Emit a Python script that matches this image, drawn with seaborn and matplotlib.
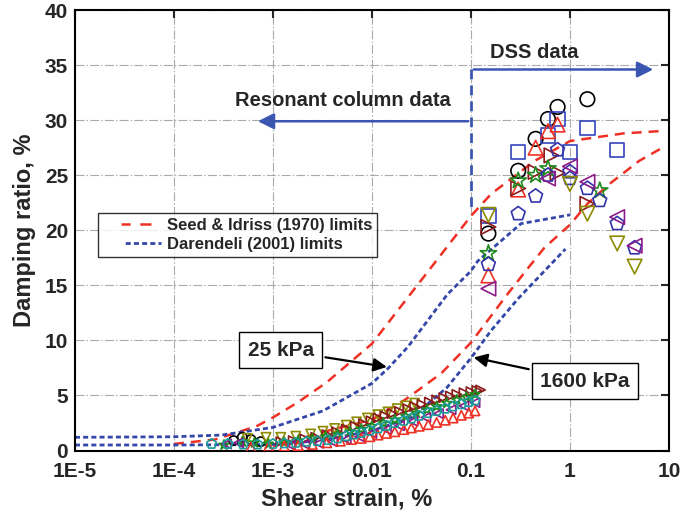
import numpy as np
import pandas as pd
import matplotlib
matplotlib.use("Agg")
import matplotlib.pyplot as plt
from matplotlib.lines import Line2D
import seaborn as sns

# ---------------- data ----------------
# Seed & Idriss (1970) limits
si_up_x = [1e-4, 2.6e-4, 6.8e-4, 1e-3, 1.8e-3, 3.5e-3, 0.01, 0.05, 0.1, 0.16, 0.44, 1.0, 3.5, 8.0]
si_up_y = [0.6, 1.0, 2.2, 3.0, 4.4, 6.2, 9.7, 17.8, 21.3, 23.3, 26.3, 28.1, 28.8, 29.0]
si_lo_x = [1e-3, 3.6e-3, 0.01, 0.0215, 0.05, 0.1, 0.234, 0.38, 0.55, 1.0, 1.5, 2.5, 5.0, 9.0]
si_lo_y = [0.4, 1.8, 2.8, 4.6, 7.0, 9.8, 14.2, 16.6, 18.4, 20.5, 22.4, 24.2, 26.3, 27.6]
# Darendeli (2001) limits
da_up_x = [1e-5, 1e-4, 3e-4, 1e-3, 3.2e-3, 0.01, 0.0147, 0.023, 0.058, 0.1, 0.117, 0.32, 1.0]
da_up_y = [1.2, 1.25, 1.4, 2.1, 3.6, 6.1, 7.5, 9.4, 14.2, 16.3, 17.2, 20.6, 21.4]
da_lo_x = [1e-5, 1e-4, 1e-3, 3e-3, 0.01, 0.025, 0.057, 0.1, 0.16, 0.3, 0.9]
da_lo_y = [0.5, 0.5, 0.55, 0.9, 1.8, 3.0, 5.7, 8.4, 10.9, 13.8, 18.3]

# DSS data (strain %, damping %)
dss = {
    "circle":   ([0.15, 0.3, 0.45, 0.6, 0.75, 1.5],
                 [19.7, 25.4, 28.3, 30.1, 31.2, 31.9]),
    "square":   ([0.15, 0.3, 0.6, 0.75, 1.0, 1.5, 3.0],
                 [21.3, 27.1, 28.6, 30.1, 27.1, 29.3, 27.3]),
    "tri_up":   ([0.15, 0.3, 0.45, 0.6, 0.75],
                 [15.9, 23.7, 27.5, 29.0, 29.6]),
    "tri_right":([0.15, 0.3, 0.45, 0.65, 0.75, 1.5],
                 [20.3, 23.8, 25.3, 26.8, 25.2, 22.4]),
    "star":     ([0.15, 0.3, 0.45, 0.6, 2.0],
                 [17.9, 24.5, 25.0, 25.6, 23.6]),
    "pentagon": ([0.15, 0.3, 0.45, 0.6, 0.75, 1.0, 1.0, 1.5, 2.0, 3.0, 4.5],
                 [16.9, 21.5, 23.1, 25.0, 27.3, 25.3, 24.7, 23.8, 22.7, 20.6, 18.4]),
    "tri_down": ([0.15, 1.0, 1.5, 3.0, 4.5],
                 [21.4, 24.2, 21.5, 18.8, 16.7]),
    "tri_left": ([0.15, 0.6, 1.0, 1.5, 3.0, 4.5],
                 [14.7, 24.7, 25.8, 24.4, 21.2, 18.6]),
}

# Resonant column data (strain %, damping %)
rc_teal_x = [2.4e-4, 3.5e-4, 5e-4, 7e-4, 1e-3, 1.3e-3, 1.7e-3, 2.2e-3, 2.8e-3, 3.6e-3, 4.5e-3, 5.5e-3,
             6.6e-3, 7.8e-3, 9.5e-3, 0.0115, 0.014, 0.017, 0.021, 0.025, 0.03, 0.037, 0.045, 0.055,
             0.066, 0.08, 0.095, 0.11]
rc_teal_y = [0.6, 0.6, 0.55, 0.55, 0.6, 0.65, 0.7, 0.8, 0.85, 0.95, 1.1, 1.3,
             1.45, 1.6, 1.8, 2.0, 2.25, 2.5, 2.7, 2.9, 3.15, 3.4, 3.6, 3.8,
             4.0, 4.2, 4.4, 4.55]
rc_red_x = [6e-4, 9e-4, 1.3e-3, 1.8e-3, 2.5e-3, 3.5e-3, 4.8e-3, 6.2e-3, 7.8e-3, 0.0095, 0.0115, 0.014,
            0.017, 0.021, 0.025, 0.03, 0.037, 0.045, 0.055, 0.066, 0.08, 0.095, 0.11]
rc_red_y = [0.3, 0.35, 0.4, 0.45, 0.55, 0.7, 0.85, 1.0, 1.1, 1.25, 1.4, 1.55,
            1.7, 1.9, 2.05, 2.2, 2.35, 2.55, 2.75, 2.95, 3.2, 3.4, 3.6]
rc_brown_x = [1.2e-3, 1.6e-3, 2.1e-3, 2.7e-3, 3.5e-3, 4.4e-3, 5.5e-3, 6.8e-3, 8.2e-3, 0.0098, 0.0115,
              0.0135, 0.016, 0.019, 0.023, 0.027, 0.032, 0.038, 0.045, 0.053, 0.062, 0.072, 0.085,
              0.1, 0.115, 0.125]
rc_brown_y = [0.8, 0.9, 1.05, 1.2, 1.45, 1.7, 1.95, 2.2, 2.45, 2.7, 2.95,
              3.15, 3.35, 3.55, 3.8, 4.0, 4.2, 4.4, 4.6, 4.8, 4.95, 5.1, 5.25,
              5.35, 5.45, 5.5]
rc_olive_x = [5.5e-4, 8.5e-4, 1.2e-3, 1.7e-3, 2.4e-3, 3.2e-3, 4.2e-3, 5.5e-3, 7e-3, 9e-3, 0.0115, 0.0145,
              0.018, 0.022, 0.027]
rc_olive_y = [1.1, 1.2, 1.2, 1.3, 1.5, 1.75, 2.0, 2.3, 2.6, 2.95, 3.25, 3.5,
              3.8, 4.05, 4.3]
rc_green_x = [3.2e-4, 4.9e-4, 6.5e-4, 9e-4, 1.3e-3, 1.8e-3, 2.5e-3, 3.4e-3, 4.5e-3, 6e-3, 7.8e-3, 0.01,
              0.013, 0.017, 0.022, 0.028, 0.036, 0.045, 0.057, 0.072, 0.09, 0.11]
rc_green_y = [0.5, 0.8, 0.7, 0.6, 0.75, 0.9, 1.05, 1.25, 1.45, 1.7, 1.95, 2.2,
              2.5, 2.8, 3.1, 3.4, 3.7, 4.0, 4.3, 4.6, 4.85, 5.1]
rc_purple_x = [3.4e-4, 4.5e-4, 1.5e-3, 2.1e-3, 2.9e-3, 4e-3, 5.5e-3, 7.5e-3, 0.01, 0.014, 0.019, 0.026,
               0.035, 0.047, 0.063, 0.085, 0.11]
rc_purple_y = [0.6, 0.7, 0.5, 0.55, 0.65, 0.8, 1.0, 1.25, 1.55, 1.9, 2.25, 2.65,
               3.0, 3.35, 3.7, 4.05, 4.35]
rc_black_x = [4e-4, 4.9e-4, 6e-4, 7.5e-4]
rc_black_y = [0.9, 1.2, 1.0, 0.8]

xtick_vals = [1e-5, 1e-4, 1e-3, 1e-2, 1e-1, 1, 10]
xtick_labels = ["1E-5", "1E-4", "1E-3", "0.01", "0.1", "1", "10"]

# ---------------- styling ----------------
RED = "#EE3124"
BLUE = "#3347A8"
ARROW_BLUE = "#3A56B0"
RED_DASH = (7.2, 5.0)
BLUE_DASH = (3.6, 2.3)
mk_style = {
    "circle": ("o", "black"),
    "square": ("s", "#3344BB"),
    "tri_up": ("^", "#EE3124"),
    "tri_right": (">", "#8B1A1A"),
    "star": ("*", "#1E8B1E"),
    "pentagon": ("p", "#3333AA"),
    "tri_down": ("v", "#8C8C00"),
    "tri_left": ("<", "#8B1A8B"),
}

sns.set_style("white")
plt.rcParams["font.family"] = ["Liberation Sans", "DejaVu Sans"]
plt.rcParams["font.weight"] = "bold"
plt.rcParams["lines.scale_dashes"] = False

fig = plt.figure(figsize=(6.84, 5.14), dpi=100)
ax = fig.add_axes([0.1096, 0.1235, 0.8684, 0.857])
ax.set_xscale("log")

def curve(xs, ys, color, dashes, lw):
    sns.lineplot(x=xs, y=ys, ax=ax, color=color, lw=lw, estimator=None, sort=False,
                 legend=False)
    ax.lines[-1].set_dashes(dashes)

curve(si_up_x, si_up_y, RED, RED_DASH, 1.8)
curve(si_lo_x, si_lo_y, RED, RED_DASH, 1.8)
curve(da_up_x, da_up_y, BLUE, BLUE_DASH, 2.0)
curve(da_lo_x, da_lo_y, BLUE, BLUE_DASH, 2.0)

def pts(xs, ys, marker, color, size):
    sns.scatterplot(x=xs, y=ys, ax=ax, marker=marker, s=size, facecolor="none",
                    edgecolor=color, linewidth=1.2, legend=False, zorder=4)

# resonant column data (small dense markers)
pts(rc_black_x, rc_black_y, "o", "black", 45)
pts(rc_olive_x, rc_olive_y, "v", "#8C8C00", 45)
pts(rc_brown_x, rc_brown_y, ">", "#8B1A1A", 45)
pts(rc_green_x, rc_green_y, "*", "#1E8B1E", 55)
pts(rc_purple_x, rc_purple_y, "<", "#8B1A8B", 45)
pts(rc_red_x, rc_red_y, "^", "#EE3124", 45)
pts(rc_teal_x, rc_teal_y, "p", "#1A9A9A", 55)

# DSS data
for key, (xs, ys) in dss.items():
    m, c = mk_style[key]
    pts(xs, ys, m, c, 110 if m != "*" else 150)

# ---------------- axes ----------------
ax.set_xlim(1e-5, 10)
ax.set_ylim(0, 40)
ax.set_xticks(xtick_vals)
ax.set_xticklabels(xtick_labels)
ax.xaxis.set_minor_locator(matplotlib.ticker.NullLocator())
ax.set_yticks(range(0, 41, 5))
ax.tick_params(axis="both", which="major", direction="in", length=6, width=1.5,
               top=True, right=True, labelsize=15)
ax.tick_params(axis="x", pad=8)
ax.tick_params(axis="y", pad=5)
for lab in ax.get_xticklabels() + ax.get_yticklabels():
    lab.set_fontweight("bold")
ax.grid(True, which="major", color="#AAAAAA", linestyle="-.", linewidth=0.8)
for sp in ax.spines.values():
    sp.set_linewidth(1.5)
    sp.set_color("black")
ax.set_xlabel("Shear strain, %", fontsize=17, fontweight="bold")
ax.xaxis.set_label_coords(0.458, -0.083)
ax.set_ylabel("Damping ratio, %", fontsize=17, fontweight="bold", labelpad=6)

# legend
h_red = Line2D([], [], color=RED, lw=1.8, dashes=(0.01, 13.0, 6.5, 7.0, 8.0, 60))
h_blue = Line2D([], [], color=BLUE, lw=2.0,
                dashes=(0.01, 16.0, 3.6, 2.3, 3.6, 2.3, 3.6, 2.3, 3.6, 2.3, 3.6, 60))
leg = ax.legend([h_red, h_blue], ["Seed & Idriss (1970) limits", "Darendeli (2001) limits"],
                loc="upper left", bbox_to_anchor=(0.038, 0.54), fontsize=12,
                handlelength=3.5, frameon=True, fancybox=False, borderpad=0.3,
                labelspacing=0.25, handletextpad=0.35, borderaxespad=0)
leg.get_frame().set_edgecolor("black")
leg.get_frame().set_linewidth(1.0)
for t in leg.get_texts():
    t.set_fontweight("bold")

# DSS / RC annotations
ax.plot([0.1, 0.1], [34.6, 21.7], color=ARROW_BLUE, lw=2, dashes=(7, 4.5))
ax.annotate("", xy=(7.4, 34.6), xytext=(0.1, 34.6),
            arrowprops=dict(arrowstyle="-|>", color=ARROW_BLUE, lw=1.8, mutation_scale=24))
ax.annotate("", xy=(6.6e-4, 29.9), xytext=(0.1, 29.9),
            arrowprops=dict(arrowstyle="-|>", color=ARROW_BLUE, lw=1.8, mutation_scale=24))
ax.text(0.44, 36.1, "DSS data", fontsize=14.5, fontweight="bold", ha="center", va="center")
ax.text(5.1e-3, 31.8, "Resonant column data", fontsize=14.5, fontweight="bold",
        ha="center", va="center")

box = dict(boxstyle="square,pad=0.4", fc="white", ec="black", lw=1.0)
ax.annotate("25 kPa", xy=(0.0151, 7.55), xytext=(1.2e-3, 9.1), fontsize=15, fontweight="bold",
            ha="center", va="center", bbox=box,
            arrowprops=dict(arrowstyle="-|>", color="black", lw=1.6, mutation_scale=20))
ax.annotate("1600 kPa", xy=(0.1, 8.5), xytext=(1.42, 6.3), fontsize=15, fontweight="bold",
            ha="center", va="center", bbox=box,
            arrowprops=dict(arrowstyle="-|>", color="black", lw=1.6, mutation_scale=20))

fig.savefig("out.png", dpi=100)
